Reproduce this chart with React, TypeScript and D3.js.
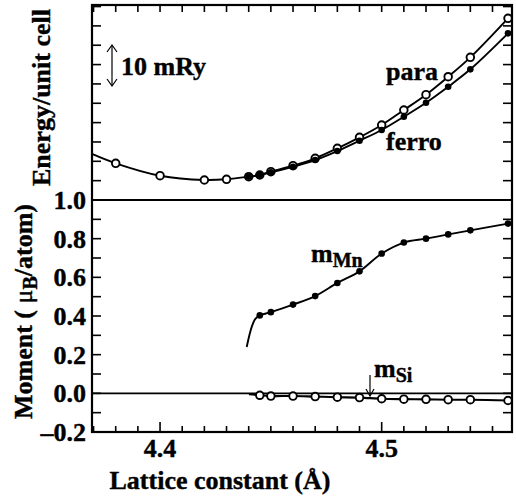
import React from "react";
import * as d3 from "d3";

// ---- data ----
const latticePara = [4.38, 4.40, 4.42, 4.43, 4.44, 4.445, 4.45, 4.46, 4.47, 4.48, 4.49, 4.50, 4.51, 4.52, 4.53, 4.54, 4.557];
const paraEnergy = [9.48, 6.28, 5.17, 5.35, 6.02, 6.46, 7.31, 8.86, 10.78, 13.36, 16.20, 19.38, 23.26, 27.21, 31.86, 36.87, 46.95];
const paraCurveStart = [4.3693, 11.9];

const latticeFerro = [4.44, 4.445, 4.45, 4.46, 4.47, 4.48, 4.49, 4.50, 4.51, 4.52, 4.53, 4.54, 4.557];
const ferroEnergy = [6.02, 6.46, 7.16, 8.60, 10.34, 12.66, 15.32, 18.09, 21.52, 25.14, 29.28, 33.77, 43.07];

const latticeMoment = [4.445, 4.45, 4.46, 4.47, 4.48, 4.49, 4.50, 4.51, 4.52, 4.53, 4.54, 4.557];
const momentMn = [0.403, 0.42, 0.459, 0.503, 0.571, 0.631, 0.723, 0.780, 0.800, 0.822, 0.843, 0.878];
const momentSi = [-0.010, -0.014, -0.014, -0.017, -0.020, -0.022, -0.028, -0.030, -0.031, -0.033, -0.033, -0.037];
const mnOnsetLattice = [4.4391, 4.4414, 4.443];
const mnOnsetMoment = [0.24, 0.345, 0.385];
const siLineStart = [4.4401, -0.005];

const xTickLabels = [4.4, 4.5];
const momentTickLabels = [-0.2, 0.0, 0.2, 0.4, 0.6, 0.8, 1.0];

// ---- layout ----
const W = 516, H = 504;
const L = 92, R = 512, T = 5, MID = 200, B = 432;
const FONT = "Liberation Serif, Times New Roman, serif";

export default function App() {
  const x = d3.scaleLinear().domain([4.3693, 4.5588]).range([L, R]);
  const yE = d3.scaleLinear().domain([0, 50.4]).range([MID, T]);
  const yM = d3.scaleLinear().domain([-0.2, 1.0]).range([B, MID]);

  const curve = d3.curveCatmullRom.alpha(0.5);
  const lineE = d3.line<[number, number]>().x(d => x(d[0])).y(d => yE(d[1])).curve(curve);
  const lineM = d3.line<[number, number]>().x(d => x(d[0])).y(d => yM(d[1])).curve(curve);

  const paraPts: [number, number][] = latticePara.map((a, i) => [a, paraEnergy[i]]);
  const ferroPts: [number, number][] = latticeFerro.map((a, i) => [a, ferroEnergy[i]]);
  const mnPts: [number, number][] = latticeMoment.map((a, i) => [a, momentMn[i]]);
  const siPts: [number, number][] = latticeMoment.map((a, i) => [a, momentSi[i]]);
  const mnLine: [number, number][] = [
    ...mnOnsetLattice.map((a, i) => [a, mnOnsetMoment[i]] as [number, number]),
    ...mnPts,
  ];
  const siLine: [number, number][] = [[siLineStart[0], siLineStart[1]], ...siPts];
  const paraLine: [number, number][] = [[paraCurveStart[0], paraCurveStart[1]], ...paraPts];

  const xMinor = d3.range(4.37, 4.5595, 0.01).map(v => +v.toFixed(2));
  const eTicks = d3.range(5, 50.5, 5);
  const mTicks = d3.range(-0.1, 1.0, 0.1).map(v => +v.toFixed(1));

  const tickMaj = 10, tickMin = 6, tickY = 9;
  const textStyle = { fontFamily: FONT, fontWeight: 700 as const };

  return (
    <svg width={W} height={H} style={{ position: "absolute", left: 0, top: 0, background: "#fff" }}>
      <rect x={0} y={0} width={W} height={H} fill="#fff" />
      {/* frame */}
      <rect x={L} y={T} width={R - L} height={B - T} fill="none" stroke="#000" strokeWidth={2.2} />
      <line x1={L} x2={R} y1={MID} y2={MID} stroke="#000" strokeWidth={2.2} />
      <line x1={L} x2={R} y1={yM(0)} y2={yM(0)} stroke="#000" strokeWidth={1.6} />

      {/* x ticks bottom and top */}
      {xMinor.map(v => {
        const major = xTickLabels.some(t => Math.abs(t - v) < 1e-6);
        const len = major ? tickMaj : tickMin;
        return (
          <g key={"xt" + v}>
            <line x1={x(v)} x2={x(v)} y1={B} y2={B - len} stroke="#000" strokeWidth={1.6} />
            <line x1={x(v)} x2={x(v)} y1={T} y2={T + 7} stroke="#000" strokeWidth={1.6} />
          </g>
        );
      })}
      <g style={textStyle} stroke="#000" strokeWidth={0.4}>
        {xTickLabels.map(v => (
          <text key={"xl" + v} x={x(v)} y={457} textAnchor="middle" fontSize={26}>{v.toFixed(1)}</text>
        ))}
      </g>

      {/* energy panel y ticks */}
      {eTicks.map(v => (
        <g key={"et" + v}>
          <line x1={L} x2={L + tickY} y1={yE(v)} y2={yE(v)} stroke="#000" strokeWidth={1.6} />
          <line x1={R} x2={R - tickY} y1={yE(v)} y2={yE(v)} stroke="#000" strokeWidth={1.6} />
        </g>
      ))}
      {/* moment panel y ticks */}
      {mTicks.map(v => (
        <g key={"mt" + v}>
          <line x1={L} x2={L + tickY} y1={yM(v)} y2={yM(v)} stroke="#000" strokeWidth={1.6} />
          <line x1={R} x2={R - tickY} y1={yM(v)} y2={yM(v)} stroke="#000" strokeWidth={1.6} />
        </g>
      ))}
      <g style={textStyle} stroke="#000" strokeWidth={0.4}>
        {momentTickLabels.map(v => (
          <text key={"ml" + v} x={86} y={yM(v) + 9} textAnchor="end" fontSize={26}>
            {v < 0 ? "\u2013" + Math.abs(v).toFixed(1) : v.toFixed(1)}
          </text>
        ))}
      </g>

      {/* energy curves */}
      <path d={lineE(paraLine) || ""} fill="none" stroke="#000" strokeWidth={1.9} />
      <path d={lineE(ferroPts) || ""} fill="none" stroke="#000" strokeWidth={1.9} />
      {paraPts.map((d, i) => (
        <circle key={"p" + i} cx={x(d[0])} cy={yE(d[1])} r={3.8} fill="#fff" stroke="#000" strokeWidth={1.9} />
      ))}
      {ferroPts.map((d, i) => (
        <circle key={"f" + i} cx={x(d[0])} cy={yE(d[1])} r={3.3} fill="#000" />
      ))}

      {/* moment curves */}
      <path d={lineM(mnLine) || ""} fill="none" stroke="#000" strokeWidth={1.9} />
      {mnPts.map((d, i) => (
        <circle key={"mn" + i} cx={x(d[0])} cy={yM(d[1])} r={3.3} fill="#000" />
      ))}
      <path d={lineM(siLine) || ""} fill="none" stroke="#000" strokeWidth={2.1} />
      {siPts.map((d, i) => (
        <circle key={"si" + i} cx={x(d[0])} cy={yM(d[1])} r={3.8} fill="#fff" stroke="#000" strokeWidth={1.9} />
      ))}

      {/* annotations */}
      <g stroke="#000" strokeWidth={1.2} fill="none">
        <line x1={112} x2={112} y1={45} y2={86} />
        <polyline points="107,52 112,45 117,52" />
        <polyline points="107,79 112,86 117,79" />
      </g>
      <g style={textStyle} stroke="#000" strokeWidth={0.4}>
        <text x={121} y={75} fontSize={26}>10 mRy</text>
        <text x={386} y={80} fontSize={26}>para</text>
        <text x={386} y={150} fontSize={26}>ferro</text>

        <text x={311} y={262} fontSize={26}>m<tspan fontSize={20} dy={5}>Mn</tspan></text>
        <text x={374} y={377} fontSize={26}>m<tspan fontSize={20} dy={5}>Si</tspan></text>
      </g>
      <g stroke="#000" strokeWidth={1.2} fill="none">
        <line x1={370} x2={370} y1={375} y2={396} />
        <polyline points="366,389 370,396 374,389" />
      </g>

      {/* axis titles */}
      <g style={textStyle} stroke="#000" strokeWidth={0.4}>
        <text x={220} y={489} textAnchor="middle" fontSize={26}>Lattice constant (Å)</text>
        <text transform="translate(50,97.5) rotate(-90)" textAnchor="middle" fontSize={26}>Energy/unit cell</text>
        <text transform="translate(32,311.5) rotate(-90)" textAnchor="middle" fontSize={26}>
          Moment ( <tspan fontWeight={400}>μ</tspan><tspan fontSize={20} dy={5}>B</tspan><tspan dy={-5}>/atom)</tspan>
        </text>
      </g>
    </svg>
  );
}
